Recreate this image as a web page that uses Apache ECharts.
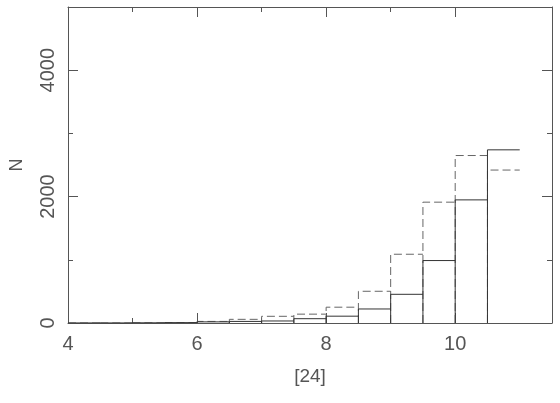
<!DOCTYPE html>
<html>
<head>
<meta charset="utf-8">
<script src="https://cdn.jsdelivr.net/npm/echarts@6/dist/echarts.min.js"></script>
<style>html,body{margin:0;padding:0;background:#fff;}#c{width:560px;height:403px;}</style>
</head>
<body>
<div id="c"></div>
<script>
// Bin edges (width 0.5) for the [24] magnitude histogram
var binStarts = [4, 4.5, 5, 5.5, 6, 6.5, 7, 7.5, 8, 8.5, 9, 9.5, 10, 10.5];
var binEnds   = [4.5, 5, 5.5, 6, 6.5, 7, 7.5, 8, 8.5, 9, 9.5, 10, 10.5, 11];
// Solid histogram counts
var solidCounts  = [1, 1, 3, 6, 18, 25, 32, 68, 108, 222, 454, 988, 1948, 2740];
// Dashed histogram counts
var dashedCounts = [0, 0, 2, 5, 25, 58, 106, 140, 250, 502, 1088, 1912, 2650, 2420];
// Axis ticks
var xMajorTicks = [4, 6, 8, 10];
var xMinorTicks = [5, 7, 9];
var yMajorTicks = [0, 2000, 4000];
var yMinorTicks = [1000, 3000];

var FONT = 'Liberation Sans';
var TXT = '#555';
var AX = '#555';

function histData(counts) {
  return binStarts.map(function (s, i) { return [s, binEnds[i], counts[i]]; });
}
function makeRender(color, dash) {
  return function (params, api) {
    var x0 = api.value(0), x1 = api.value(1), v = api.value(2);
    var p0 = api.coord([x0, 0]);
    var p1 = api.coord([x0, v]);
    var p2 = api.coord([x1, v]);
    return {
      type: 'polyline',
      shape: { points: [p0, p1, p2] },
      style: { fill: null, stroke: color, lineWidth: 1, lineDash: dash }
    };
  };
}
function plain(v) { return String(v); }

function xAx(pos, ticks, len, showLine, showLabel) {
  return {
    type: 'value', position: pos, min: 4, max: 11.5,
    splitLine: { show: false },
    axisLine: { show: showLine, onZero: false, lineStyle: { color: AX, width: 1 } },
    axisTick: { show: true, inside: true, length: len, customValues: ticks, lineStyle: { color: AX } },
    axisLabel: { show: showLabel, customValues: ticks, formatter: plain, color: TXT, fontFamily: FONT, fontSize: 20, margin: 11 }
  };
}
function yAx(pos, ticks, len, showLine, showLabel) {
  return {
    type: 'value', position: pos, min: 0, max: 5000,
    splitLine: { show: false },
    axisLine: { show: showLine, onZero: false, lineStyle: { color: AX, width: 1 } },
    axisTick: { show: true, inside: true, length: len, customValues: ticks, lineStyle: { color: AX } },
    axisLabel: { show: showLabel, customValues: ticks, formatter: plain, rotate: 90, color: TXT, fontFamily: FONT, fontSize: 20, margin: 10 }
  };
}

var xAxes = [
  xAx('bottom', xMajorTicks, 10, true, true),
  xAx('bottom', xMinorTicks, 5, false, false),
  xAx('top', xMajorTicks, 10, true, false),
  xAx('top', xMinorTicks, 5, false, false)
];
xAxes[0].name = '[24]';
xAxes[0].nameLocation = 'middle';
xAxes[0].nameGap = 44;
xAxes[0].nameTextStyle = { color: TXT, fontFamily: FONT, fontSize: 19 };

var yAxes = [
  yAx('left', yMajorTicks, 10, true, true),
  yAx('left', yMinorTicks, 5, false, false),
  yAx('right', yMajorTicks, 10, true, false),
  yAx('right', yMinorTicks, 5, false, false)
];
yAxes[0].name = 'N';
yAxes[0].nameLocation = 'middle';
yAxes[0].nameGap = 42;
yAxes[0].nameTextStyle = { color: TXT, fontFamily: FONT, fontSize: 18 };

var chart = echarts.init(document.getElementById('c'), null, { renderer: 'canvas' });
chart.setOption({
  animation: false,
  backgroundColor: '#fff',
  grid: { left: 68, right: 8, top: 7, bottom: 80, containLabel: false },
  xAxis: xAxes,
  yAxis: yAxes,
  series: [
    { type: 'custom', xAxisIndex: 0, yAxisIndex: 0, renderItem: makeRender('#666', [8, 4]), data: histData(dashedCounts), z: 2 },
    { type: 'custom', xAxisIndex: 0, yAxisIndex: 0, renderItem: makeRender('#333', null), data: histData(solidCounts), z: 3 }
  ]
});
</script>
</body>
</html>
